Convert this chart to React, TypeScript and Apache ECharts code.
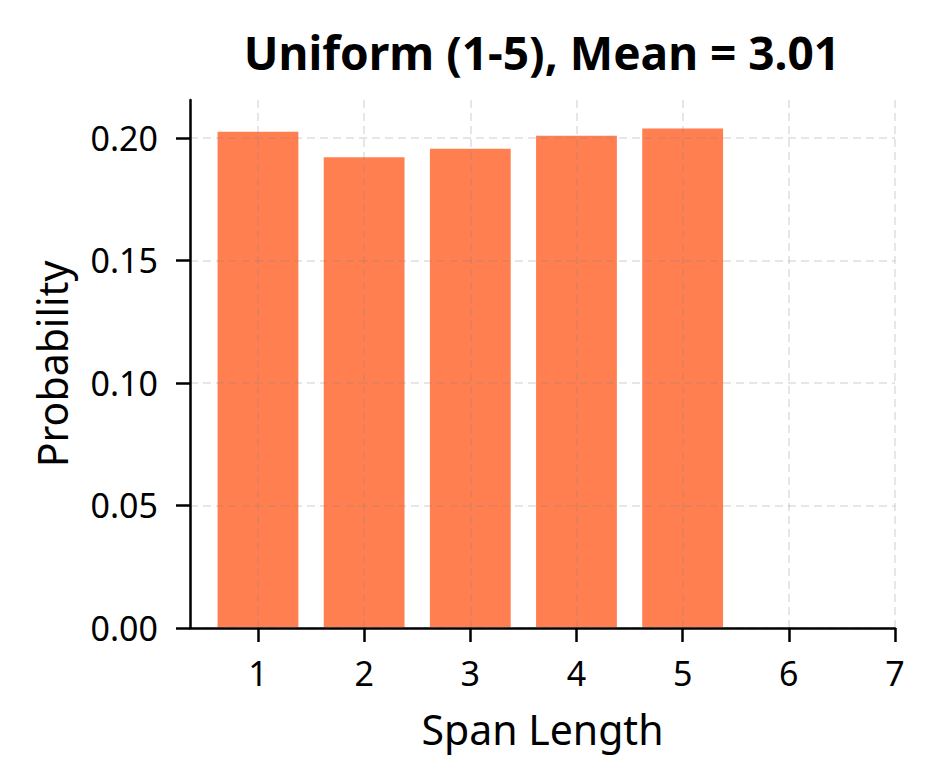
import React, { useEffect, useRef } from "react";
import * as echarts from "echarts";

const spanLengths = [1, 2, 3, 4, 5];
const probabilities = [0.203, 0.1925, 0.196, 0.2013, 0.2043];
const xTicks = [1, 2, 3, 4, 5, 6, 7];
const yTicks = [0, 0.05, 0.1, 0.15, 0.2];
const titleText = "Uniform (1-5), Mean = 3.01";

const FONT = "Noto Sans";
const BAR_COLOR = "#FF7F50";

export default function App() {
  const ref = useRef<HTMLDivElement>(null);
  useEffect(() => {
    if (!ref.current) return;
    const chart = echarts.init(ref.current, null, { renderer: "svg" });
    const data = spanLengths.map((x, i) => [x, probabilities[i]]);
    const gridLine = {
      show: true,
      lineStyle: { color: "rgba(128,128,128,0.2)", width: 2, type: [8, 5] as any },
    };
    chart.setOption({
      animation: false,
      backgroundColor: "#ffffff",
      textStyle: { fontFamily: FONT },
      grid: { left: 190, right: 39, top: 100, bottom: 156, outerBoundsMode: "none", containLabel: false },
      graphic: [
        {
          type: "text",
          x: 542,
          y: 52,
          style: {
            text: titleText,
            align: "center",
            verticalAlign: "middle",
            fontSize: 46,
            fontWeight: "bold",
            fontFamily: FONT,
            fill: "#000",
          },
        },
      ],
      xAxis: {
        type: "value",
        min: 0.36,
        max: 7,
        z: 5,
        interval: 1,
        name: "Span Length",
        nameLocation: "middle",
        nameGap: 80,
        nameTextStyle: { fontSize: 41, color: "#000", fontFamily: FONT },
        axisLine: { show: true, onZero: false, lineStyle: { color: "#000", width: 2.5 } },
        axisTick: { show: true, length: 14, lineStyle: { color: "#000", width: 2.5 }, customValues: xTicks },
        axisLabel: {
          fontSize: 34,
          color: "#000",
          margin: 28,
          fontFamily: FONT,
          customValues: xTicks,
          formatter: (v: number) => String(v),
        },
        splitLine: gridLine,
      },
      yAxis: {
        type: "value",
        min: 0,
        max: 0.2155,
        interval: 0.05,
        z: 5,
        name: "Probability",
        nameLocation: "middle",
        nameGap: 118,
        nameTextStyle: { fontSize: 41, color: "#000", fontFamily: FONT },
        axisLine: { show: true, onZero: false, lineStyle: { color: "#000", width: 2.5 } },
        axisTick: { show: true, length: 14, lineStyle: { color: "#000", width: 2.5 }, customValues: yTicks },
        axisLabel: {
          fontSize: 34,
          color: "#000",
          margin: 32,
          fontFamily: FONT,
          customValues: yTicks,
          formatter: (v: number) => v.toFixed(2),
        },
        splitLine: gridLine,
      },
      series: [
        {
          type: "custom",
          z: 1,
          data,
          renderItem: (params: any, api: any) => {
            const x = api.value(0);
            const y = api.value(1);
            const p0 = api.coord([x - 0.39, y]);
            const p1 = api.coord([x + 0.39, 0]);
            return {
              type: "rect",
              shape: { x: p0[0], y: p0[1], width: p1[0] - p0[0], height: p1[1] - p0[1] },
              style: { fill: BAR_COLOR, stroke: "#ffffff", lineWidth: 2 },
            };
          },
        },
      ],
    });
    return () => chart.dispose();
  }, []);
  return <div ref={ref} style={{ width: 934, height: 784, position: "absolute", left: 0, top: 0 }} />;
}
